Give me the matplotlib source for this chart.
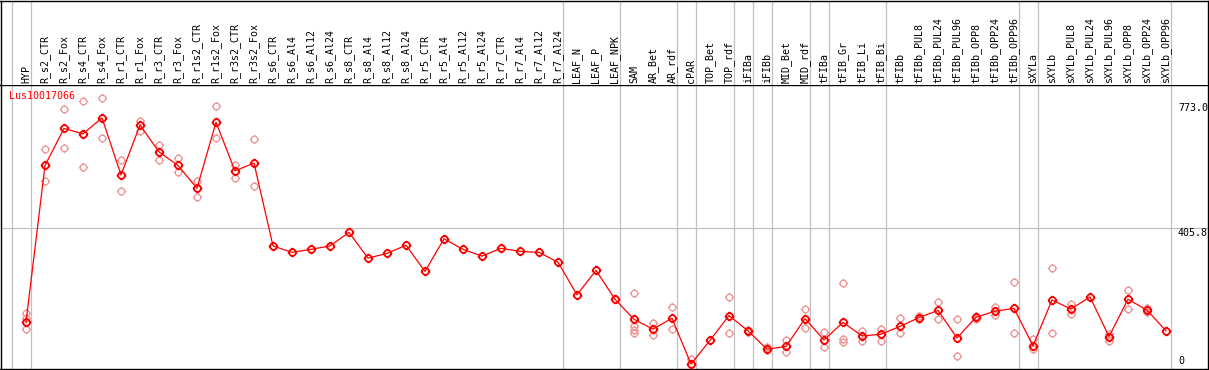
import numpy as np
import matplotlib
matplotlib.use("Agg")
import matplotlib.pyplot as plt
from matplotlib.path import Path
from matplotlib.transforms import blended_transform_factory

# sample names along the top
samples = ["HYP", "R_s2_CTR", "R_s2_Fox", "R_s4_CTR", "R_s4_Fox", "R_r1_CTR", "R_r1_Fox",
           "R_r3_CTR", "R_r3_Fox", "R_r1s2_CTR", "R_r1s2_Fox", "R_r3s2_CTR", "R_r3s2_Fox",
           "R_s6_CTR", "R_s6_Al4", "R_s6_Al12", "R_s6_Al24", "R_s8_CTR", "R_s8_Al4",
           "R_s8_Al12", "R_s8_Al24", "R_r5_CTR", "R_r5_Al4", "R_r5_Al12", "R_r5_Al24",
           "R_r7_CTR", "R_r7_Al4", "R_r7_Al12", "R_r7_Al24", "LEAF_N", "LEAF_P", "LEAF_NPK",
           "SAM", "AR_Bet", "AR_rdf", "cPAR", "TOP_Bet", "TOP_rdf", "iFIBa", "iFIBb",
           "MID_Bet", "MID_rdf", "tFIBa", "tFIB_Gr", "tFIB_Li", "tFIB_Bi", "tFIBb",
           "tFIBb_PUL8", "tFIBb_PUL24", "tFIBb_PUL96", "tFIBb_OPP8", "tFIBb_OPP24",
           "tFIBb_OPP96", "sXYLa", "sXYLb", "sXYLb_PUL8", "sXYLb_PUL24", "sXYLb_PUL96",
           "sXYLb_OPP8", "sXYLb_OPP24", "sXYLb_OPP96"]

# mean expression per sample
means = [128, 590, 699, 683, 730, 562, 709, 630, 590, 523, 717, 574, 597,
         353, 334, 343, 353, 393, 317, 331, 355, 278, 374, 343, 323,
         346, 337, 334, 305, 209, 281, 196,
         137, 108, 140, 5, 75, 148, 103, 49, 57, 139,
         76, 128, 88, 93, 116, 142, 163, 82, 143, 161, 169,
         59, 194, 167, 203, 86, 196, 164, 103]

# individual replicates (empty where they sit under the mean)
replicates = [[155, 141, 108], [638, 544], [756, 641], [779, 585], [788, 670],
              [605, 514], [721, 692], [650, 606], [612, 572], [545, 498],
              [765, 670], [591, 552], [667, 529],
              [], [], [], [], [], [], [], [], [], [], [], [], [], [], [], [],
              [], [], [],
              [215, 117, 105, 96], [127, 90], [174, 108], [21], [], [202, 96],
              [105, 100], [55, 46], [76, 42], [167, 110],
              [100, 55], [245, 78, 71], [102, 72], [109, 72], [141, 96],
              [146, 137], [188, 137], [137, 29], [147, 139], [172, 149], [246, 96],
              [79, 50], [287, 96], [181, 153], [], [94, 72], [222, 168], [170, 159], []]

# last sample index of each group, gray separators go after these
group_ends = [-1, 0, 28, 31, 34, 35, 37, 38, 39, 41, 42, 45, 52, 53, 60]

gene = "Lus10017066"
y_marks = [773.0, 405.8]

W, H = 1209, 370
fig = plt.figure(figsize=(W / 100, H / 100), dpi=100)

# pixel layout of the original page
ax = fig.add_axes([0.5 / W, 1 / H, 1207.5 / W, 284 / H])
ax_lab = fig.add_axes([0.5 / W, 285 / H, 1207.5 / W, 84.5 / H], sharex=ax)

x = np.arange(len(samples))
ax.set_xlim((0.5 - 26) / 19, (1208 - 26) / 19)
ax.set_ylim(-9.4, 826.9)
ax_lab.set_ylim(0, 1)

grid_c = "#c0c0c0"
for a in (ax, ax_lab):
    a.set_xticks([])
    a.set_yticks([])
    for s in a.spines.values():
        s.set_color("black")
        s.set_linewidth(1.0)
    for g in group_ends:
        a.axvline(g + 0.25, color=grid_c, lw=0.9, zorder=0)
ax_lab.spines["bottom"].set_visible(False)
ax.axhline(405.8, color=grid_c, lw=0.9, zorder=0)

# circle with small ticks, like the original glyph
ticks = Path([(0, 1), (0, 1.4), (0, -1), (0, -1.4), (1, 0), (1.4, 0), (-1, 0), (-1.4, 0)],
             [Path.MOVETO, Path.LINETO] * 4)
tick_circle = Path.make_compound_path(Path.unit_circle(), ticks)

rx = [i for i, r in enumerate(replicates) for _ in r]
ry = [v for r in replicates for v in r]
ax.plot(rx, ry, ls="none", marker=tick_circle, ms=6.6, mfc="none",
        mec="#ee9a9a", mew=1.0, zorder=2)

ax.plot(x, means, color="red", lw=0.9, marker=tick_circle, ms=6.8, mfc="none",
        mec="red", mew=1.3, zorder=3)

font = dict(family="DejaVu Sans Mono", fontsize=7.2)
for i, name in enumerate(samples):
    ax_lab.text(i, 0.024, name, rotation=90, ha="center", va="bottom", **font)

ax.text(9 / 1207.5, 0.978, gene, transform=ax.transAxes, color="red",
        ha="left", va="top", **font)

bt = blended_transform_factory(ax.transAxes, ax.transData)
for v in y_marks:
    ax.text(0.9752, v, f"{v:.1f}", transform=bt, ha="left", va="top", **font)
ax.text(0.9752, 0, "0", transform=bt, ha="left", va="bottom", **font)

fig.savefig("out.png", dpi=100)
